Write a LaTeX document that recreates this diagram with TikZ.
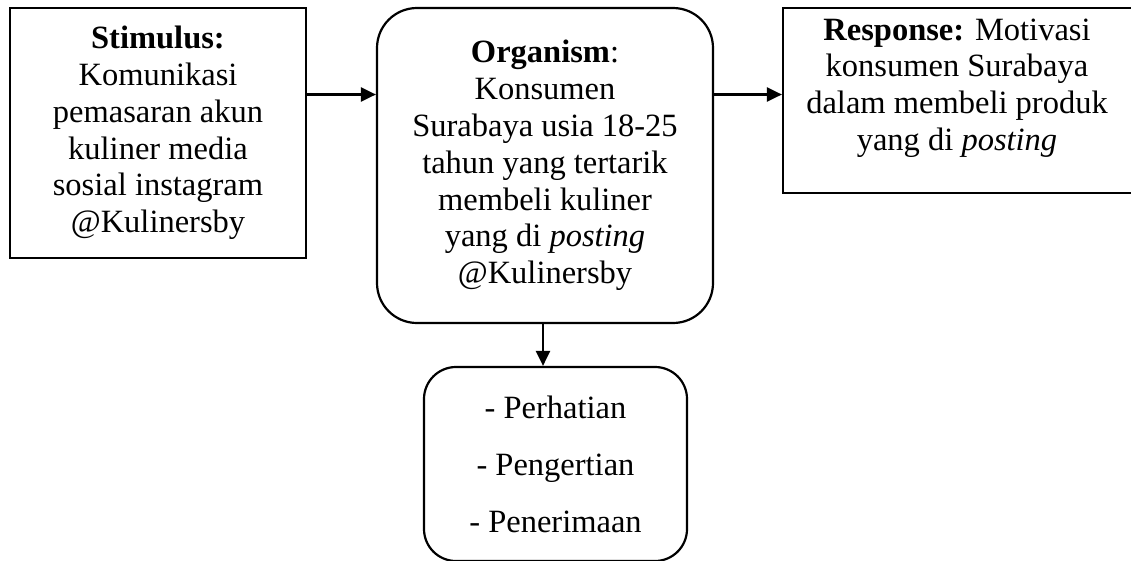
\documentclass[tikz,border=0pt]{standalone}
\usepackage{fontspec}
\setmainfont{Liberation Serif}
\usetikzlibrary{arrows.meta}
\begin{document}
\begin{tikzpicture}[x=1pt,y=-1pt,
  every node/.style={font=\fontsize{32.5}{36.8}\selectfont},
  sqbox/.style={draw,line width=2.2pt,rectangle,align=center,inner sep=0pt},
  rbox/.style={draw,line width=2.2pt,rectangle,rounded corners=#1,align=center,inner sep=0pt},
  arr/.style={line width=2.4pt,-{Triangle[length=15pt,width=14pt]}}]
\useasboundingbox (0,0) rectangle (1131,560);
\node[sqbox,minimum width=296pt,minimum height=250pt] (stim) at (158,133)
  {\textbf{Stimulus:}\\Komunikasi\\pemasaran akun\\kuliner media\\sosial instagram\\@Kulinersby};
\node[rbox=40pt,minimum width=336pt,minimum height=315pt] (org) at (545,165.5)
  {\textbf{Organism}:\\Konsumen\\Surabaya usia 18-25\\tahun yang tertarik\\membeli kuliner\\yang di \textit{posting}\\@Kulinersby};
\node[sqbox,minimum width=350pt,minimum height=185pt] (resp) at (958,100.5) {};
\node[align=center,inner sep=0pt] (resptxt) at (957,88)
  {\textbf{Response:} Motivasi\\konsumen Surabaya\\dalam membeli produk\\yang di \textit{posting}};
\node[rbox=32pt,minimum width=263pt,minimum height=194pt,
  font=\fontsize{32.5}{57}\selectfont] (bot) at (555.5,464)
  {- Perhatian\\- Pengertian\\- Penerimaan};
\coordinate (lvl) at (0,94.5);
\coordinate (col) at (543,0);
\draw[arr] (stim.east |- lvl) -- (org.west |- lvl);
\draw[arr] (org.east |- lvl) -- (resp.west |- lvl);
\draw[arr] (org.south -| col) -- (bot.north -| col);
\end{tikzpicture}
\end{document}
